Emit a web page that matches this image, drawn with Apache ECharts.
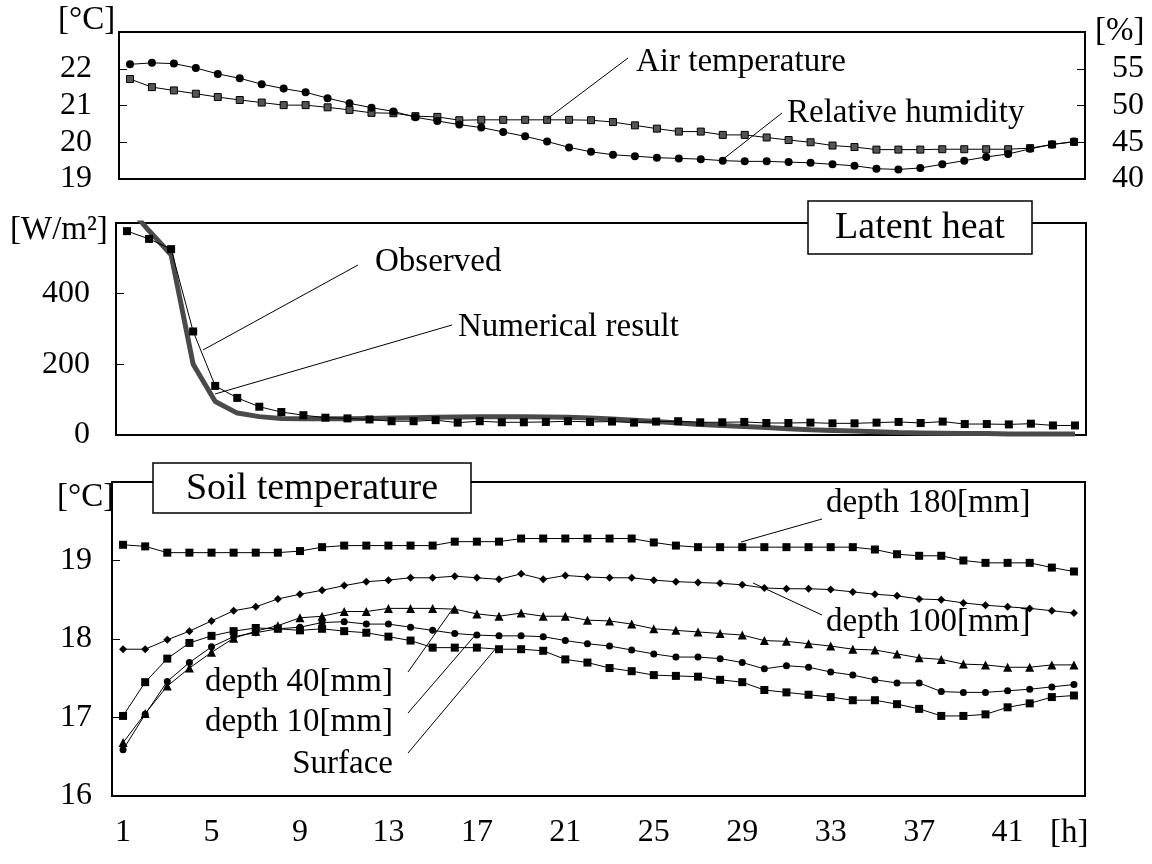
<!DOCTYPE html>
<html><head><meta charset="utf-8">
<script src="https://cdn.jsdelivr.net/npm/echarts@6/dist/echarts.min.js"></script>
<style>html,body{margin:0;background:#fff}#c{width:1152px;height:864px}</style>
</head><body><div id="c"></div>
<script>
// ---------- data ----------
const hours = ['1','2','3','4','5','6','7','8','9','10','11','12','13','14','15','16','17','18','19','20','21','22',
  '23','24','25','26','27','28','29','30','31','32','33','34','35','36','37','38','39','40','41','42','43','44'];
const xTickLabels = ['1','5','9','13','17','21','25','29','33','37','41'];

const airTemp = [21.72,21.50,21.41,21.32,21.23,21.15,21.08,21.01,21.01,20.95,20.88,20.80,20.79,20.71,20.69,20.60,20.61,20.61,20.61,20.61,
  20.61,20.60,20.55,20.46,20.37,20.29,20.29,20.20,20.20,20.13,20.06,20.00,19.91,19.87,19.80,19.80,19.80,19.81,19.81,19.81,19.81,19.84,19.94,20.01];
const relHumidity = [55.6,55.8,55.7,55.1,54.3,53.7,52.9,52.3,51.8,51.0,50.3,49.7,49.2,48.4,47.9,47.4,47.0,46.4,45.8,45.1,
  44.3,43.7,43.3,43.1,42.9,42.8,42.7,42.5,42.4,42.4,42.3,42.2,42.0,41.8,41.4,41.3,41.5,42.0,42.5,43.0,43.4,44.1,44.7,45.1];

const latentObserved = [577,555,526,293,139,105,80,65,56,49,47,44,39,39,42,35,39,36,36,37,
  39,37,38,35,38,39,36,36,37,34,34,35,33,33,35,37,34,38,31,31,30,32,27,27];
const latentNumerical = [650,578,510,200,95,62,52,47,46,46,46,47,48,49,50,51,52,52,52,51,
  50,48,45,42,38,34,30,27,24,21,18,15,13,11,9,7,6,5,4,4,3,3,3,3];

const depth180 = [19.20,19.18,19.10,19.10,19.10,19.10,19.10,19.10,19.12,19.17,19.19,19.19,19.19,19.19,19.19,19.24,19.24,19.24,19.28,19.28,
  19.28,19.28,19.28,19.28,19.23,19.19,19.17,19.17,19.17,19.17,19.17,19.17,19.17,19.17,19.14,19.08,19.06,19.06,19.00,18.97,18.97,18.97,18.91,18.86];
const depth100 = [17.87,17.87,17.99,18.10,18.23,18.36,18.41,18.51,18.57,18.62,18.68,18.73,18.75,18.78,18.78,18.80,18.78,18.76,18.83,18.76,
  18.81,18.79,18.78,18.78,18.75,18.73,18.72,18.71,18.69,18.65,18.64,18.64,18.63,18.60,18.57,18.55,18.51,18.50,18.46,18.43,18.41,18.39,18.36,18.33];
const depth40 = [16.68,17.05,17.40,17.63,17.83,18.01,18.10,18.17,18.27,18.29,18.35,18.35,18.39,18.39,18.39,18.38,18.32,18.29,18.33,18.29,
  18.29,18.24,18.23,18.19,18.13,18.11,18.09,18.07,18.05,17.98,17.97,17.94,17.91,17.87,17.86,17.81,17.76,17.74,17.68,17.67,17.64,17.64,17.67,17.67];
const depth10 = [16.59,17.04,17.46,17.70,17.90,18.03,18.08,18.13,18.15,18.21,18.22,18.19,18.19,18.15,18.11,18.07,18.05,18.04,18.04,18.03,
  17.98,17.94,17.91,17.86,17.81,17.77,17.77,17.75,17.70,17.62,17.66,17.64,17.58,17.54,17.48,17.44,17.44,17.33,17.32,17.32,17.34,17.36,17.39,17.42];
const surface = [17.02,17.45,17.75,17.95,18.04,18.10,18.14,18.13,18.11,18.13,18.10,18.08,18.03,17.98,17.89,17.89,17.89,17.87,17.87,17.85,
  17.74,17.70,17.63,17.59,17.54,17.53,17.52,17.48,17.45,17.35,17.32,17.29,17.26,17.22,17.22,17.17,17.11,17.02,17.02,17.04,17.13,17.18,17.26,17.28];

// ---------- chart ----------
const FONT = '"Liberation Serif", "Times New Roman", serif';
const chart = echarts.init(document.getElementById('c'), null, {renderer: 'canvas'});

function yAxisCfg(gridIndex, min, max, interval, position, margin) {
  return {
    type: 'value', gridIndex, min, max, interval, position,
    splitLine: {show: false},
    axisLine: {show: false},
    axisTick: {show: true, inside: true, length: 8, lineStyle: {color: '#000', width: 1}},
    axisLabel: {
      margin, fontFamily: FONT, fontSize: 32, color: '#000',
      formatter: v => (v === max ? '' : String(v))
    }
  };
}
function xAxisCfg(gridIndex, showLabels) {
  return {
    type: 'category', gridIndex, data: hours, boundaryGap: true,
    axisLine: {show: false}, axisTick: {show: false}, splitLine: {show: false},
    axisLabel: {
      show: showLabels, margin: 21, fontFamily: FONT, fontSize: 32, color: '#000',
      interval: (idx, val) => xTickLabels.indexOf(val) >= 0
    }
  };
}
const thin = {color: '#000', width: 1};

const texts = [
  {t: 'Air temperature', x: 636, y: 62},
  {t: 'Relative humidity', x: 787, y: 113},
  {t: 'Observed', x: 375, y: 262},
  {t: 'Numerical result', x: 458, y: 327},
  {t: 'depth 180[mm]', x: 826, y: 503},
  {t: 'depth 100[mm]', x: 826, y: 622},
  {t: 'depth 40[mm]', x: 205, y: 682},
  {t: 'depth 10[mm]', x: 205, y: 722},
  {t: 'Surface', x: 393, y: 764, a: 'right'},
  {t: '[°C]', x: 58, y: 20},
  {t: '[%]', x: 1095, y: 31},
  {t: '[W/m²]', x: 10, y: 230},
  {t: '[°C]', x: 57, y: 497},
  {t: '[h]', x: 1050, y: 833}
];
const leaders = [
  [547,119,628,58], [722,160,782,113],
  [203,350,358,265], [215,394,452,325],
  [741,542,822,519], [753,583,822,615],
  [408,672,454,607], [408,713,477,633], [408,753,497,647]
];
const graphics = [];
leaders.forEach(l => graphics.push({type: 'line', z: 50, shape: {x1: l[0], y1: l[1], x2: l[2], y2: l[3]},
  style: {stroke: '#000', lineWidth: 1}}));
texts.forEach(o => graphics.push({type: 'text', z: 60, x: o.x, y: o.y,
  style: {text: o.t, font: '33px ' + FONT, fill: '#000', textAlign: o.a || 'left', textVerticalAlign: 'middle',
          align: o.a || 'left', verticalAlign: 'middle'}}));
// title boxes
[{t: 'Latent heat', x: 808, y: 201, w: 224, h: 53}, {t: 'Soil temperature', x: 153, y: 463, w: 318, h: 50}].forEach(b => {
  graphics.push({type: 'rect', z: 100, shape: {x: b.x, y: b.y, width: b.w, height: b.h},
    style: {fill: '#fff', stroke: '#000', lineWidth: 1.5}});
  graphics.push({type: 'text', z: 101, x: b.x + b.w / 2, y: b.y + b.h / 2 + 1,
    style: {text: b.t, font: '38px ' + FONT, fill: '#000', textAlign: 'center', textVerticalAlign: 'middle',
            align: 'center', verticalAlign: 'middle'}});
});

const gridBase = {show: true, borderColor: '#000', borderWidth: 2, backgroundColor: 'transparent'};

chart.setOption({
  animation: false,
  backgroundColor: '#fff',
  grid: [
    Object.assign({left: 119, right: 67, top: 32, height: 147}, gridBase),
    Object.assign({left: 116, right: 66, top: 223, height: 212}, gridBase),
    Object.assign({left: 112, right: 67, top: 482, height: 314}, gridBase)
  ],
  xAxis: [xAxisCfg(0, false), xAxisCfg(1, false), xAxisCfg(2, true)],
  yAxis: [
    yAxisCfg(0, 19, 23, 1, 'left', 27),
    yAxisCfg(0, 40, 60, 5, 'right', 27),
    yAxisCfg(1, 0, 600, 200, 'left', 26),
    yAxisCfg(2, 16, 20, 1, 'left', 20)
  ],
  series: [
    {name: 'Air temperature', type: 'line', xAxisIndex: 0, yAxisIndex: 0, data: airTemp,
     symbol: 'rect', symbolSize: 7, lineStyle: thin, itemStyle: {color: '#555', borderColor: '#000', borderWidth: 1}},
    {name: 'Relative humidity', type: 'line', xAxisIndex: 0, yAxisIndex: 1, data: relHumidity,
     symbol: 'circle', symbolSize: 8, lineStyle: thin, itemStyle: {color: '#000'}},
    {name: 'Numerical result', type: 'line', xAxisIndex: 1, yAxisIndex: 2, data: latentNumerical,
     symbol: 'none', z: 2, lineStyle: {color: '#4a4a4a', width: 5}},
    {name: 'Observed', type: 'line', xAxisIndex: 1, yAxisIndex: 2, data: latentObserved, z: 3,
     symbol: 'rect', symbolSize: 8, lineStyle: thin, itemStyle: {color: '#000'}},
    {name: 'depth 180[mm]', type: 'line', xAxisIndex: 2, yAxisIndex: 3, data: depth180,
     symbol: 'rect', symbolSize: 8, lineStyle: thin, itemStyle: {color: '#000'}},
    {name: 'depth 100[mm]', type: 'line', xAxisIndex: 2, yAxisIndex: 3, data: depth100,
     symbol: 'diamond', symbolSize: 8, lineStyle: thin, itemStyle: {color: '#000'}},
    {name: 'depth 40[mm]', type: 'line', xAxisIndex: 2, yAxisIndex: 3, data: depth40,
     symbol: 'triangle', symbolSize: 9, lineStyle: thin, itemStyle: {color: '#000'}},
    {name: 'depth 10[mm]', type: 'line', xAxisIndex: 2, yAxisIndex: 3, data: depth10,
     symbol: 'circle', symbolSize: 7, lineStyle: thin, itemStyle: {color: '#000'}},
    {name: 'Surface', type: 'line', xAxisIndex: 2, yAxisIndex: 3, data: surface,
     symbol: 'rect', symbolSize: 8, lineStyle: thin, itemStyle: {color: '#000'}}
  ],
  graphic: graphics
});
</script>
</body></html>
